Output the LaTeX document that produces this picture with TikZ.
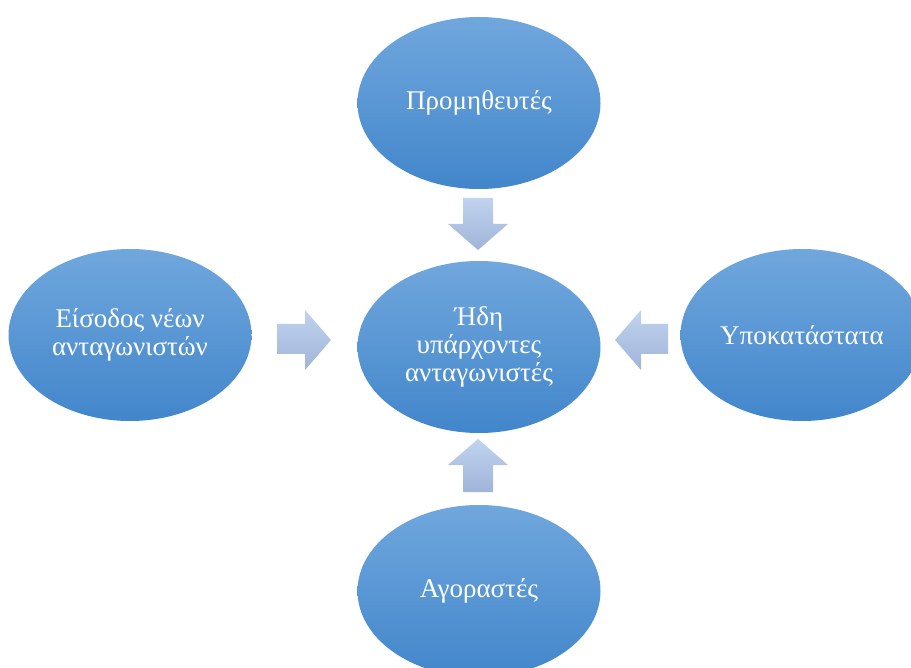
\documentclass[tikz,border=0pt]{standalone}
\usepackage{fontspec}
\setmainfont{Liberation Serif}
\usetikzlibrary{shapes.geometric}
\definecolor{elltop}{RGB}{112,167,221}
\definecolor{ellbot}{RGB}{66,134,203}
\definecolor{arrtop}{RGB}{192,211,239}
\definecolor{arrbot}{RGB}{160,180,216}
\tikzset{
  bubble/.style={ellipse, minimum width=243pt, minimum height=172pt, inner sep=0pt,
    top color=elltop, bottom color=ellbot, draw=none, text=white, align=center,
    font=\fontsize{27}{28}\selectfont},
  blockarrow/.style={top color=arrtop, bottom color=arrbot, draw=none}
}
\begin{document}
\begin{tikzpicture}[x=1pt,y=-1pt]
\useasboundingbox (0,0) rectangle (911,668);
\node[bubble] (top) at (479,103) {Προμηθευτές};
\node[bubble] (center) at (479,347) {Ήδη\\υπάρχοντες\\ανταγωνιστές};
\node[bubble] (left) at (130,335) {Είσοδος νέων\\ανταγωνιστών};
\node[bubble] (right) at (802,335) {Υποκατάστατα};
\node[bubble] (bottom) at (479,591) {Αγοραστές};
% down arrow (from top)
\path[blockarrow] (463,198) -- (493,198) -- (493,224) -- (508,224) -- (478,250) -- (448,224) -- (463,224) -- cycle;
% up arrow (from bottom)
\path[blockarrow] (463,492) -- (493,492) -- (493,465) -- (508,465) -- (478,439) -- (448,465) -- (463,465) -- cycle;
% right-pointing arrow (from left)
\path[blockarrow] (277,324) -- (305,324) -- (305,310) -- (331,340) -- (305,370) -- (305,354) -- (277,354) -- cycle;
% left-pointing arrow (from right)
\path[blockarrow] (668,324) -- (641,324) -- (641,310) -- (615,340) -- (641,370) -- (641,354) -- (668,354) -- cycle;
\end{tikzpicture}
\end{document}
